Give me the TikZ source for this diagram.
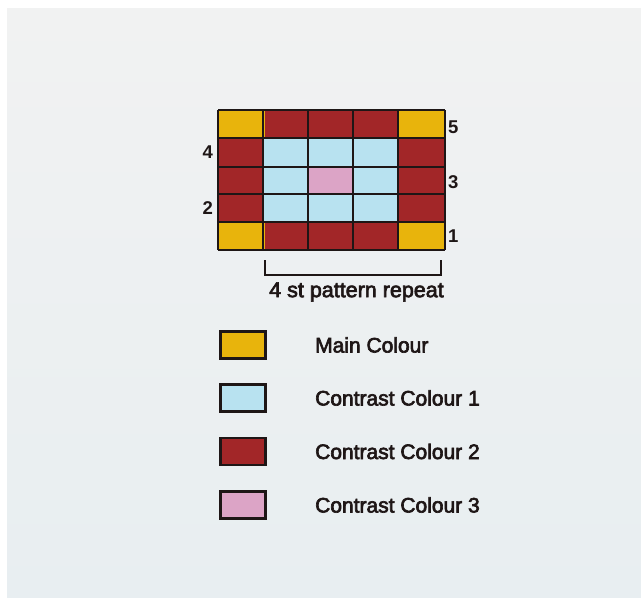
\documentclass[tikz,border=0pt]{standalone}
\usepackage{fontspec}
\setmainfont{Liberation Sans}
\newfontfamily\inkfont{Liberation Sans}[FakeBold=3]
\usetikzlibrary{positioning,calc}

\definecolor{papertop}{RGB}{241,242,242}
\definecolor{paperbot}{RGB}{232,238,241}
\definecolor{maincol}{RGB}{232,180,12}
\definecolor{ccone}{RGB}{184,226,240}
\definecolor{cctwo}{RGB}{162,38,40}
\definecolor{ccthree}{RGB}{220,164,198}
\definecolor{ink}{RGB}{30,22,22}

\begin{document}
\begin{tikzpicture}[x=1pt,y=-1pt,
    gridline/.style={ink,line width=2.8pt},
    rownum/.style={font=\fontsize{18.5}{20}\selectfont\bfseries,text=ink,inner sep=0pt},
    swatch/.style={draw=ink,line width=2.2pt,minimum width=45pt,minimum height=27pt,inner sep=0pt},
    legtext/.style={font=\inkfont\fontsize{21}{24}\selectfont,text=ink,anchor=west,inner sep=0pt}]
    \useasboundingbox (0,0) rectangle (641,598);
    \fill[white] (0,0) rectangle (641,598);
    \shade[top color=papertop,bottom color=paperbot] (7,8) rectangle (641,598);

    % Chart: border, inner block, centre stitch, corners
    \fill[cctwo] (218,110) rectangle (445,250);
    \fill[ccone] (263,138) rectangle (398,222);
    \fill[ccthree] (308,167) rectangle (353,194);
    \foreach \x/\y in {218/110,398/110,218/222,398/222}
        \fill[maincol] (\x,\y) rectangle ++(47,28);
    \foreach \x in {218,263,308,353,398,445}
        \draw[gridline] (\x,110) -- (\x,250);
    \foreach \y in {110,138,167,194,222,250}
        \draw[gridline] (218,\y) -- (445,\y);

    % Row numbers
    \node[rownum,anchor=west] (row5) at (448,127.5) {5};
    \node[rownum,anchor=east] (row4) at (213,152.5) {4};
    \node[rownum,anchor=west] (row3) at (448,182.5) {3};
    \node[rownum,anchor=east] (row2) at (213,208) {2};
    \node[rownum,anchor=west] (row1) at (448,236) {1};

    % Pattern repeat bracket
    \coordinate (brleft) at (265,260);
    \coordinate (brright) at (441,260);
    \draw[line width=2.8pt,ink] (brleft) |- ($(brright)+(0,15)$) -- (brright);
    \node[font=\inkfont\fontsize{21.5}{24}\selectfont,text=ink,inner sep=0pt] (repeat) at (356.5,292) {4 st pattern repeat};

    % Key
    \foreach \col/\txt/\yy [count=\i] in {maincol/Main Colour/345,ccone/Contrast Colour 1/398,
                                         cctwo/Contrast Colour 2/451.5,ccthree/Contrast Colour 3/505}{
        \node[swatch,fill=\col] (key\i) at (243,\yy) {};
        \node[legtext] (label\i) at (315,\yy) {\txt};
    }
\end{tikzpicture}
\end{document}
